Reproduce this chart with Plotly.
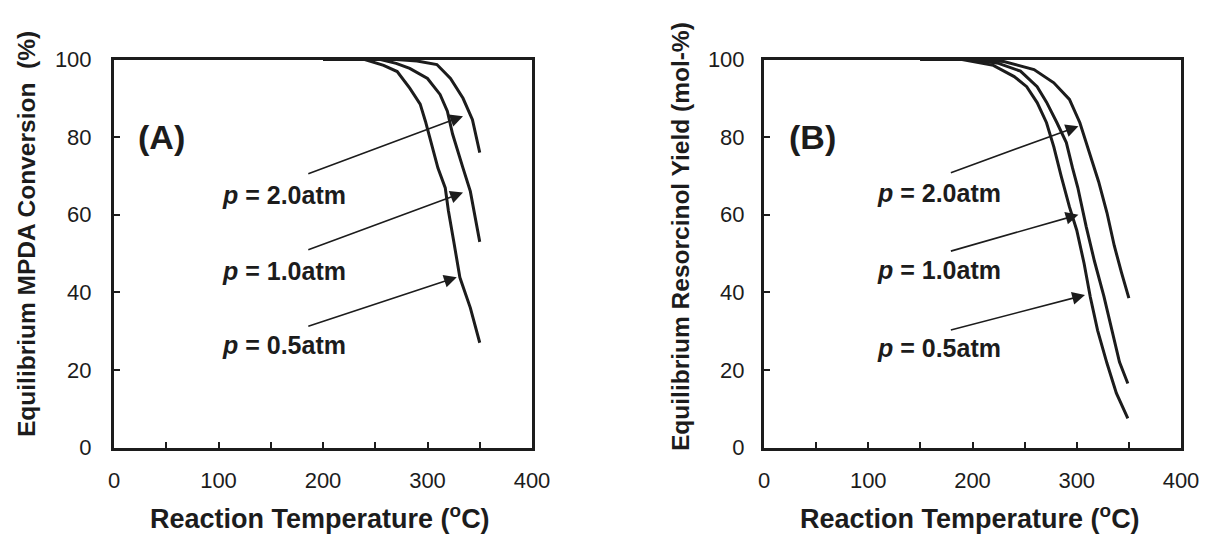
import plotly.graph_objects as go

# ---------------- data ----------------
# Panel A: Equilibrium MPDA conversion (%) vs reaction temperature (C)
A_T_05 = [200, 240, 258, 271, 283, 293, 298, 304, 310, 317, 320, 325, 331, 341, 350]
A_V_05 = [100, 100, 98.5, 96.9, 92.6, 88.5, 84.1, 78.2, 72, 66.9, 61, 53.3, 43.8, 36, 27]
A_T_10 = [200, 255, 270, 283, 300, 312, 319, 324, 334, 341, 350]
A_V_10 = [100, 100, 99, 97.7, 95.1, 91, 86.7, 80.8, 72, 66, 53]
A_T_20 = [200, 270, 290, 309, 322, 334, 343, 350]
A_V_20 = [100, 100, 99.6, 98.7, 95.1, 90, 84.5, 76]

# Panel B: Equilibrium resorcinol yield (mol-%) vs reaction temperature (C)
B_T_05 = [150, 190, 220, 240, 252, 262, 271, 278, 285, 293, 300, 307, 313, 320, 329, 338, 349]
B_V_05 = [100, 100, 98.5, 95.6, 93, 88.9, 83.7, 77.5, 70, 62, 56, 47.5, 38.8, 30.2, 21.7, 14, 7.5]
B_T_10 = [150, 195, 225, 246, 262, 271, 281, 290, 296, 301, 309, 317, 326, 333, 341, 349]
B_V_10 = [100, 100, 99, 97, 93, 89, 83.7, 78.6, 72, 67, 57, 48, 39, 31, 22, 16.5]
B_T_20 = [150, 200, 230, 259, 278, 293, 303, 310, 316, 321, 329, 336, 343, 350]
B_V_20 = [100, 100, 99.5, 97.4, 94, 89.7, 83.7, 78, 73, 68.5, 60.5, 52, 45, 38.5]

PRESSURE_LABELS = ["2.0atm", "1.0atm", "0.5atm"]
X_TICKS = [0, 100, 200, 300, 400]
Y_TICKS = [0, 20, 40, 60, 80, 100]

# annotation anchor values (data units): label position, arrow tail, arrow tip
A_LABEL_XY = [(163, 65), (163, 45.6), (163, 26.4)]
A_ARROW = [((184.5, 70.4), (334, 85.4)), ((184.5, 50.8), (334, 65.7)), ((184.5, 31.1), (328, 43.9))]
B_LABEL_XY = [(167.6, 65.6), (167.6, 45.7), (167.6, 25.6)]
B_ARROW = [((177.8, 70.7), (301.6, 82.8)), ((177.8, 50.5), (301.6, 60.0)), ((177.8, 30.2), (307.9, 39.3))]

FONT = "Liberation Sans, Arial, sans-serif"
INK = "#1c1c1c"

fig = go.Figure()
for t, v in [(A_T_05, A_V_05), (A_T_10, A_V_10), (A_T_20, A_V_20)]:
    fig.add_trace(go.Scatter(x=t, y=v, mode="lines", line=dict(color=INK, width=3),
                             xaxis="x", yaxis="y", showlegend=False, hoverinfo="skip"))
for t, v in [(B_T_05, B_V_05), (B_T_10, B_V_10), (B_T_20, B_V_20)]:
    fig.add_trace(go.Scatter(x=t, y=v, mode="lines", line=dict(color=INK, width=3),
                             xaxis="x2", yaxis="y2", showlegend=False, hoverinfo="skip"))

# page has an 8px body margin: work in page pixels and convert
OFF = 8
W, H = 1209 - OFF, 553 - OFF


def px(x):
    return (x - OFF) / W


def py(y):
    return 1 - (y - OFF) / H


ydom = [py(447.5), py(59.5)]


def xax(dom, anchor):
    return dict(domain=dom, anchor=anchor, range=[0, 400], tickvals=X_TICKS,
                ticks="inside", ticklen=6, tickwidth=1.5, tickcolor=INK,
                minor=dict(dtick=50, tick0=0, ticks="inside", ticklen=6, tickwidth=1.5, tickcolor=INK),
                showline=True, linewidth=3, linecolor=INK, mirror=True,
                showgrid=False, zeroline=False, automargin=False, ticklabeloverflow="allow",
                tickfont=dict(family=FONT, size=22, color=INK), ticklabelstandoff=11)


def yax(dom, anchor, standoff):
    return dict(domain=dom, anchor=anchor, range=[0, 100], tickvals=Y_TICKS,
                ticks="inside", ticklen=6, tickwidth=1.5, tickcolor=INK,
                showline=True, linewidth=3, linecolor=INK, mirror=True,
                showgrid=False, zeroline=False, automargin=False, ticklabeloverflow="allow",
                tickfont=dict(family=FONT, size=22, color=INK), ticklabelstandoff=standoff)


annotations = []
# panel labels
annotations.append(dict(x=45, y=80, xref="x", yref="y", text="<b>(A)</b>", showarrow=False,
                        font=dict(family=FONT, size=34, color=INK)))
annotations.append(dict(x=47, y=80, xref="x2", yref="y2", text="<b>(B)</b>", showarrow=False,
                        font=dict(family=FONT, size=34, color=INK)))

for (xr, yr, labels, arrows) in [("x", "y", A_LABEL_XY, A_ARROW), ("x2", "y2", B_LABEL_XY, B_ARROW)]:
    for lab, (lx, ly), ((tx, ty), (hx, hy)) in zip(PRESSURE_LABELS, labels, arrows):
        annotations.append(dict(x=lx, y=ly, xref=xr, yref=yr, showarrow=False,
                                xanchor="center", yanchor="middle",
                                text="<b><i>p</i> = " + lab + "</b>",
                                font=dict(family=FONT, size=25, color=INK)))
        annotations.append(dict(x=hx, y=hy, ax=tx, ay=ty, xref=xr, yref=yr, axref=xr, ayref=yr,
                                text="", showarrow=True, arrowhead=2, arrowsize=1.6,
                                arrowwidth=1.6, arrowcolor=INK))

# axis titles
for cx in (320, 970):
    annotations.append(dict(x=px(cx), y=py(517), xref="paper", yref="paper", showarrow=False,
                            xanchor="center", yanchor="middle",
                            text="<b>Reaction Temperature (<sup>o</sup>C)</b>",
                            font=dict(family=FONT, size=27, color=INK)))
annotations.append(dict(x=px(26), y=py(234), xref="paper", yref="paper", showarrow=False,
                        xanchor="center", yanchor="middle",
                        textangle=-90, text="<b>Equilibrium MPDA Conversion  (%)</b>",
                        font=dict(family=FONT, size=24.5, color=INK)))
annotations.append(dict(x=px(681), y=py(237), xref="paper", yref="paper", showarrow=False,
                        xanchor="center", yanchor="middle",
                        textangle=-90, text="<b>Equilibrium Resorcinol Yield (mol-%)</b>",
                        font=dict(family=FONT, size=24.5, color=INK)))

fig.update_layout(
    width=W, height=H, margin=dict(l=0, r=0, t=0, b=0),
    paper_bgcolor="white", plot_bgcolor="white", showlegend=False,
    xaxis=xax([px(114), px(532)], "y"), yaxis=yax(ydom, "x", 15),
    xaxis2=xax([px(764), px(1181)], "y2"), yaxis2=yax(ydom, "x2", 12),
    annotations=annotations,
)

fig.write_html("out.html")
